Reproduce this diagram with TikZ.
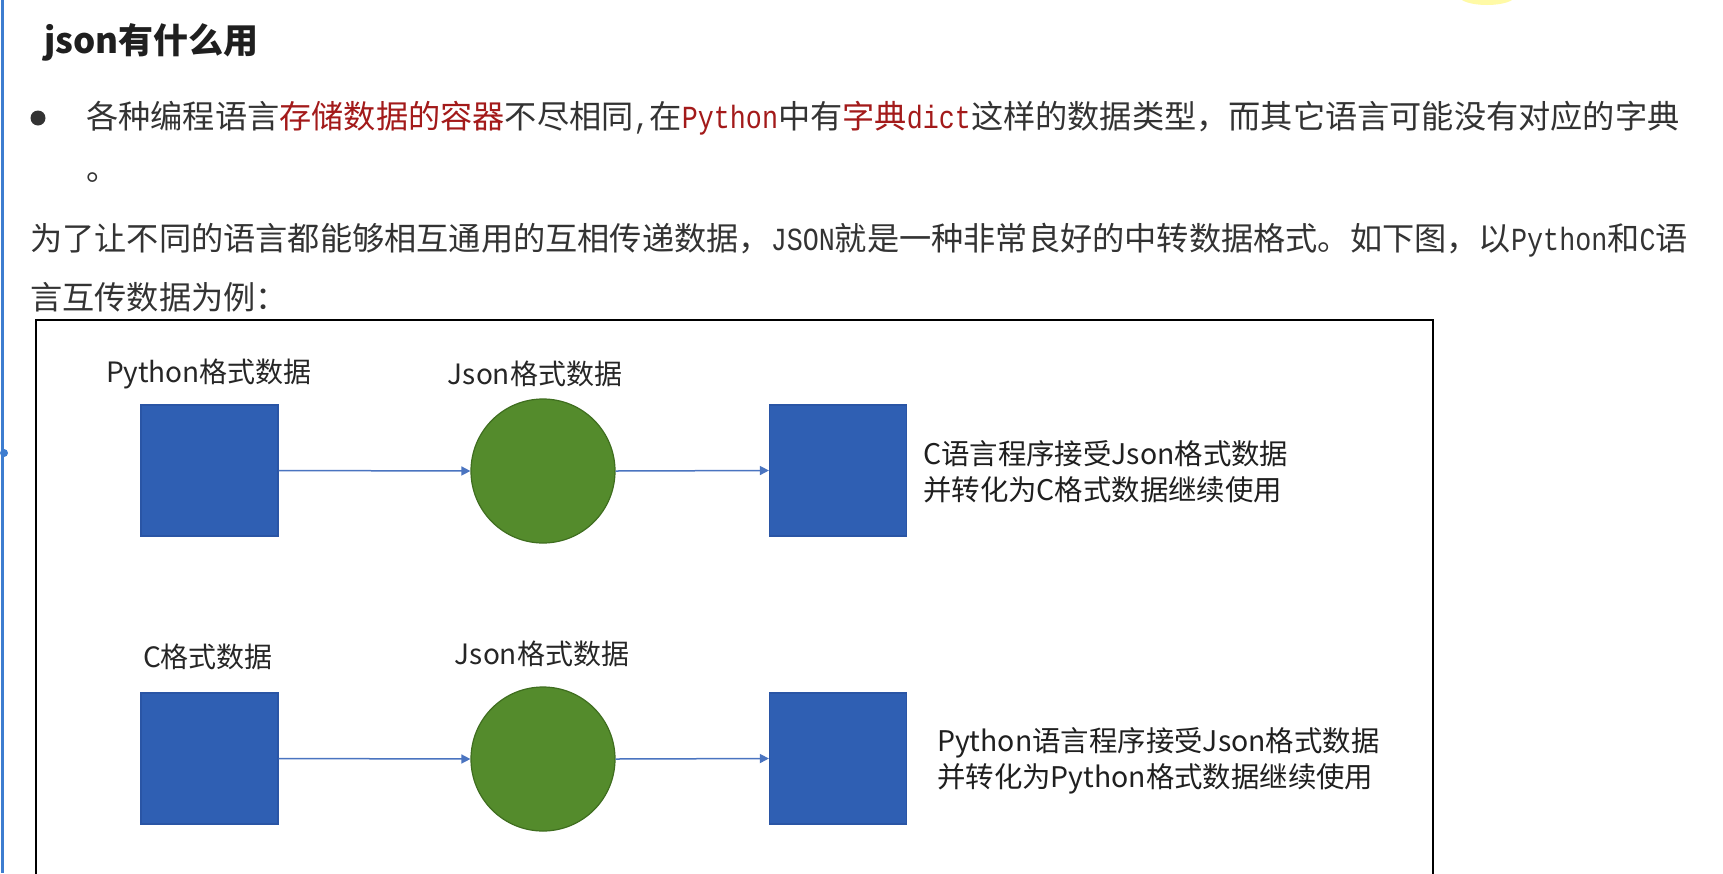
\documentclass[tikz,border=0pt]{standalone}
\usepackage{fontspec}
\setmainfont{Noto Sans CJK SC}
\newfontfamily\latmono[FakeStretch=0.83]{Liberation Mono}
\usetikzlibrary{arrows.meta}
\definecolor{txt}{HTML}{333333}
\definecolor{redt}{HTML}{A31A1A}
\definecolor{sqblue}{HTML}{2F5FB3}
\definecolor{sqedge}{HTML}{2A55A5}
\definecolor{cgreen}{HTML}{548B2C}
\definecolor{cedge}{HTML}{3F6E1F}
\definecolor{arr}{HTML}{4A74C0}
\definecolor{sidebar}{HTML}{3D7DD0}
\newcommand\fsz[2]{\fontsize{#1}{#2}\selectfont}
\newcommand\rd[1]{\textcolor{redt}{#1}}
\newcommand\lm[1]{{\latmono #1}}
\tikzset{
  body/.style={anchor=west, inner sep=0, text=txt, font=\fsz{32.2}{40}},
  sqbox/.style={draw=sqedge, line width=1.2, fill=sqblue, minimum width=137, minimum height=131, inner sep=0},
  jcirc/.style={draw=cedge, line width=1.2, fill=cgreen, circle, minimum size=144, inner sep=0},
  lbl/.style={inner sep=0, text=black!85, font=\fsz{28}{34}},
  desc/.style={anchor=west, inner sep=0, align=left, text=black!88, font=\fsz{28.4}{36}},
  conn/.style={draw=arr, line width=1.5, -{Triangle[length=9,width=9]}},
}
\begin{document}
\begin{tikzpicture}[x=1pt,y=-1pt]
\useasboundingbox (0,0) rectangle (1723,873);
\fill[white] (0,0) rectangle (1723,873);
\fill[yellow!35] (1487,-4) ellipse (28 and 9);
% left sidebar
\fill[sidebar] (1,0) rectangle (4,873);
\fill[sidebar] (4,453) circle (4);
% title
\node[anchor=west, inner sep=0, text=black!88, font=\fsz{35}{40}\bfseries] (title) at (44,42) {json有什么用};
% bullet paragraph
\node[circle, fill=txt, inner sep=0, minimum size=15] (bullet) at (38,118) {};
\node[body] (l1) at (86,118) {各种编程语言\rd{存储数据的容器}不尽相同\lm{,}在\rd{\lm{Python}}中有\rd{字典\lm{dict}}这样的数据类型，而其它语言可能没有对应的字典};
\node[body] (l1b) at (86,178) {。};
% second paragraph
\node[body] (p2a) at (30,240) {为了让不同的语言都能够相互通用的互相传递数据，\lm{JSON}就是一种非常良好的中转数据格式。如下图，以\lm{Python}和\lm{C}语};
\node[body] (p2b) at (30,297) {言互传数据为例：};
% diagram frame
\draw[line width=2, black] (36,876) |- (1433,320) -- (1433,876);
% row 1
\node[sqbox] (s1) at (209.5,470.5) {};
\node[jcirc] (c1) at (543,471) {};
\node[sqbox] (s2) at (838,470.5) {};
\node[lbl] (t1) at (209,374) {Python格式数据};
\node[lbl] (t2) at (535,374) {Json格式数据};
\node[desc] (d1) at (923,472) {C语言程序接受Json格式数据\\并转化为C格式数据继续使用};
\draw[conn] (s1.east) -- (c1.west);
\draw[conn] (c1.east) -- (s2.west);
% row 2
\node[sqbox] (s3) at (209.5,758.5) {};
\node[jcirc] (c2) at (543,759) {};
\node[sqbox] (s4) at (838,758.5) {};
\node[lbl] (t3) at (208,657) {C格式数据};
\node[lbl] (t4) at (542,654) {Json格式数据};
\node[desc] (d2) at (937,760.5) {Python语言程序接受Json格式数据\\并转化为Python格式数据继续使用};
\draw[conn] (s3.east) -- (c2.west);
\draw[conn] (c2.east) -- (s4.west);
\end{tikzpicture}
\end{document}
